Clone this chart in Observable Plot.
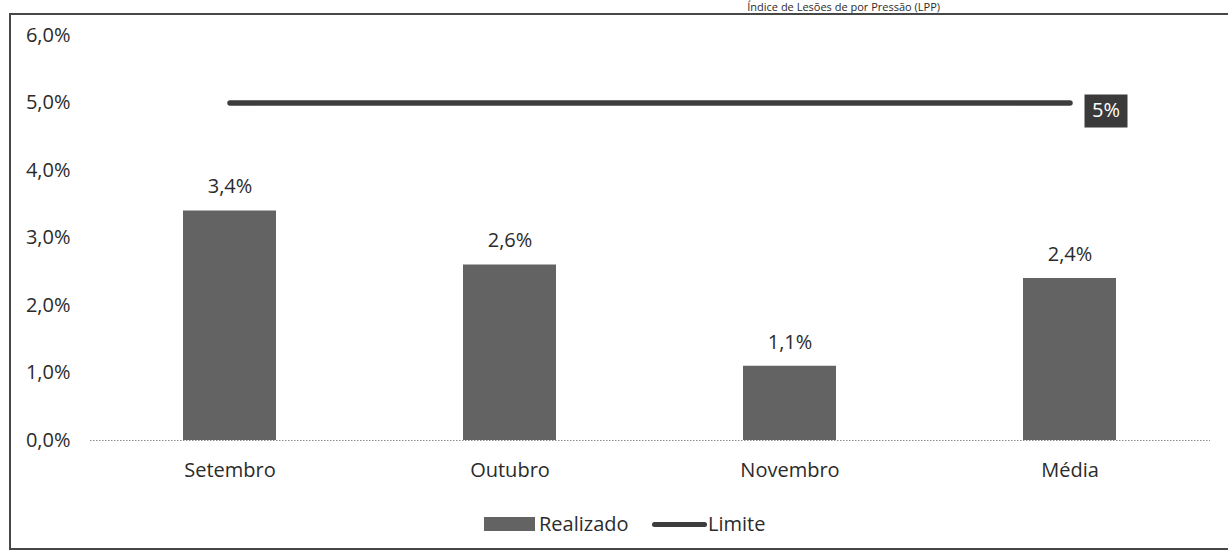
<!DOCTYPE html>
<html>
<head>
<meta charset="utf-8">
<script src="https://cdn.jsdelivr.net/npm/d3@7"></script>
<script src="https://cdn.jsdelivr.net/npm/@observablehq/plot@0.6"></script>
<style>
  html, body { margin: 0; padding: 0; background: #fff; width: 1228px; height: 558px; overflow: hidden; }
  body { position: relative; font-family: "Open Sans", sans-serif; color: #2b2b2b; }
  #title { position: absolute; top: 0px; left: 0; width: 940px; text-align: right; font-size: 11px; line-height: 13px; white-space: nowrap; }
  #frame { position: absolute; left: 9px; top: 13px; width: 1240px; height: 537px; border: 2px solid #474747; box-sizing: border-box; }
  #chart { position: absolute; left: 0; top: 0; }
  #legend { position: absolute; top: 510px; left: 0; width: 1228px; font-size: 20px; }
  .sw { position: absolute; }
</style>
</head>
<body>
<div id="title"></div>
<div id="frame"></div>
<div id="chart"></div>
<div id="legend"></div>
<script>
const categories = ["Setembro", "Outubro", "Novembro", "Média"];
const realizado = [3.4, 2.6, 1.1, 2.4];
const limite = [5, 5, 5, 5];
const yTicks = [0, 1, 2, 3, 4, 5, 6];
const limiteLabel = "5%";
const titleText = "Índice de Lesões de por Pressão (LPP)";
const seriesNames = ["Realizado", "Limite"];

document.getElementById("title").textContent = titleText;

const barData = categories.map((c, i) => ({cat: c, value: realizado[i]}));
const limData = categories.map((c, i) => ({cat: c, value: limite[i]}));
const lastLim = [limData[limData.length - 1]];

const pct = v => v.toFixed(1).replace(".", ",") + "%";

const rectSymbol = {
  draw(ctx) { ctx.rect(-21.5, -16.5, 43, 33); }
};

const chart = Plot.plot({
  width: 1228,
  height: 500,
  marginTop: 35,
  marginBottom: 60,
  marginLeft: 90,
  marginRight: 18,
  style: {fontFamily: "Open Sans, sans-serif", fontSize: "20px", color: "#2b2b2b", background: "transparent"},
  x: {domain: categories, paddingInner: 0.667, paddingOuter: 0.333, label: null},
  y: {domain: [0, 6], label: null},
  marks: [
    Plot.axisY({ticks: yTicks, tickFormat: pct, tickSize: 0, tickPadding: 20, textAnchor: "end", fontSize: 20}),
    Plot.axisX({tickSize: 0, tickPadding: 22, fontSize: 20}),
    Plot.ruleY([0], {stroke: "#8a8a8a", strokeWidth: 1, strokeDasharray: "1.5,1.5"}),
    Plot.barY(barData, {x: "cat", y: "value", fill: "#636363"}),
    Plot.text(barData, {x: "cat", y: "value", text: d => pct(d.value), dy: -24, fontSize: 20, fill: "#2b2b2b"}),
    Plot.line(limData, {x: "cat", y: "value", stroke: "#3d3d3d", strokeWidth: 5.5, strokeLinecap: "round"}),
    Plot.dot(lastLim, {x: "cat", y: "value", symbol: rectSymbol, r: 10, fill: "#3a3a3a", stroke: "none", dx: 36, dy: 8}),
    Plot.text(lastLim, {x: "cat", y: "value", text: () => limiteLabel, dx: 36, dy: 8, fill: "#fff", fontSize: 20})
  ]
});
document.getElementById("chart").appendChild(chart);

// Legend
const legend = document.getElementById("legend");
legend.innerHTML = `
  <div class="sw" style="left:484px; top:7px; width:51px; height:14px; background:#636363;"></div>
  <div class="sw" style="left:539px; top:0px;">${seriesNames[0]}</div>
  <div class="sw" style="left:652px; top:12px; width:55px; height:5px; border-radius:3px; background:#3d3d3d;"></div>
  <div class="sw" style="left:708px; top:0px;">${seriesNames[1]}</div>
`;
</script>
</body>
</html>
